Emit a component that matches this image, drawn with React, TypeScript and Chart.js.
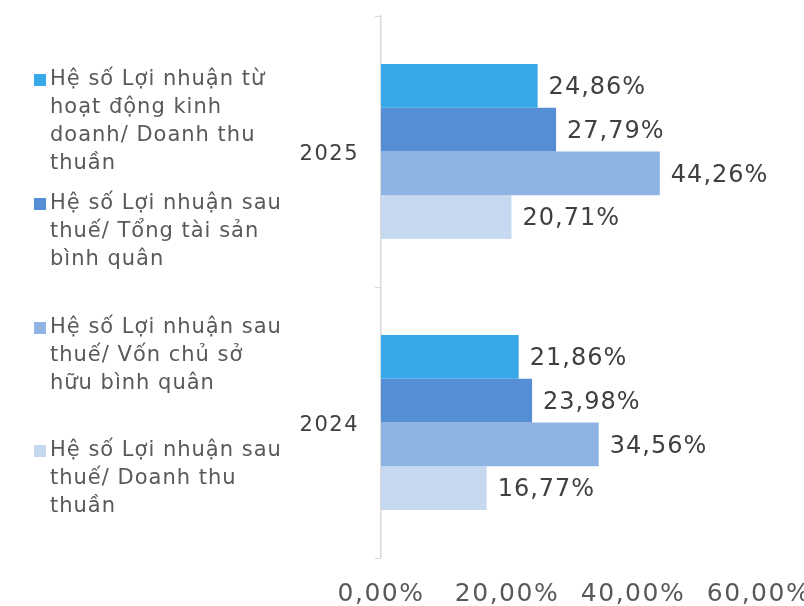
import React, { useEffect, useRef } from "react";
import { Chart, registerables } from "chart.js";

Chart.register(...registerables);

const categories = ["2025", "2024"];
const seriesNames = [
  "Hệ số Lợi nhuận từ hoạt động kinh doanh/ Doanh thu thuần",
  "Hệ số Lợi nhuận sau thuế/ Tổng tài sản bình quân",
  "Hệ số Lợi nhuận sau thuế/ Vốn chủ sở hữu bình quân",
  "Hệ số Lợi nhuận sau thuế/ Doanh thu thuần",
];
const legendLines = [
  ["Hệ số Lợi nhuận từ", "hoạt động kinh", "doanh/ Doanh thu", "thuần"],
  ["Hệ số Lợi nhuận sau", "thuế/ Tổng tài sản", "bình quân"],
  ["Hệ số Lợi nhuận sau", "thuế/ Vốn chủ sở", "hữu bình quân"],
  ["Hệ số Lợi nhuận sau", "thuế/ Doanh thu", "thuần"],
];
const seriesOperatingMargin = [24.86, 21.86];
const seriesROA = [27.79, 23.98];
const seriesROE = [44.26, 34.56];
const seriesNetMargin = [20.71, 16.77];
const xTicks = [0, 20, 40, 60];

const colors = ["#38A8E8", "#558ED5", "#8EB4E3", "#C6D9F1"];
const FONT = "'DejaVu Sans', sans-serif";

const fmt = (v: number) => v.toFixed(2).replace(".", ",") + "%";

export default function App() {
  const ref = useRef<HTMLCanvasElement | null>(null);
  useEffect(() => {
    document.body.style.margin = "0";
    const canvas = ref.current!;
    const spacingPlugin = {
      id: "spacing",
      beforeDraw(chart: any) {
        chart.ctx.letterSpacing = "1.5px";
      },
    };
    const legendPlugin = {
      id: "sideLegend",
      afterDraw(chart: any) {
        const ctx = chart.ctx;
        const starts = [80, 204, 328, 451];
        const lh = 28;
        ctx.save();
        ctx.letterSpacing = "1px";
        ctx.font = `21px ${FONT}`;
        ctx.textBaseline = "middle";
        ctx.textAlign = "left";
        legendLines.forEach((lines, i) => {
          const y0 = starts[i];
          ctx.fillStyle = colors[i];
          ctx.fillRect(34, y0 - 6, 12, 12);
          ctx.fillStyle = "#595959";
          lines.forEach((t, j) => ctx.fillText(t, 50, y0 + j * lh));
        });
        ctx.restore();
      },
    };
    const labelPlugin = {
      id: "barLabels",
      afterDatasetsDraw(chart: any) {
        const ctx = chart.ctx;
        ctx.save();
        ctx.letterSpacing = "1px";
        ctx.font = `24px ${FONT}`;
        ctx.fillStyle = "#404040";
        ctx.textBaseline = "middle";
        ctx.textAlign = "left";
        chart.data.datasets.forEach((ds: any, i: number) => {
          const meta = chart.getDatasetMeta(i);
          meta.data.forEach((bar: any, j: number) => {
            ctx.fillText(fmt(ds.data[j]), bar.x + 11, bar.y + 2);
          });
        });
        ctx.restore();
      },
    };
    const chart = new Chart(canvas, {
      type: "bar",
      data: {
        labels: categories,
        datasets: [
          { label: seriesNames[0], data: seriesOperatingMargin, backgroundColor: colors[0] },
          { label: seriesNames[1], data: seriesROA, backgroundColor: colors[1] },
          { label: seriesNames[2], data: seriesROE, backgroundColor: colors[2] },
          { label: seriesNames[3], data: seriesNetMargin, backgroundColor: colors[3] },
        ],
      },
      options: {
        indexAxis: "y",
        responsive: false,
        animation: false,
        layout: { padding: { top: 16, right: 45, left: 0, bottom: 0 } },
        datasets: { bar: { categoryPercentage: 0.646, barPercentage: 1 } },
        plugins: { legend: { display: false }, tooltip: { enabled: false } },
        scales: {
          x: {
            min: 0,
            max: 60,
            afterBuildTicks(scale: any) {
              scale.ticks = xTicks.map((v) => ({ value: v }));
            },
            afterFit(scale: any) {
              scale.height = 48;
              scale.paddingLeft = 0;
              scale.paddingRight = 0;
            },
            grid: { display: false },
            border: { display: false },
            ticks: {
              font: { family: FONT, size: 25 },
              color: "#595959",
              padding: 13,
              maxRotation: 0,
              autoSkip: false,
              callback: (v: any) => fmt(Number(v)),
            },
          },
          y: {
            afterFit(scale: any) {
              scale.width = 381;
              scale.paddingTop = 0;
              scale.paddingBottom = 0;
            },
            grid: {
              display: true,
              drawOnChartArea: false,
              drawTicks: true,
              tickLength: 6,
              color: "#D9D9D9",
              offset: true,
            },
            border: { display: true, color: "#D9D9D9", width: 1.5 },
            ticks: {
              font: { family: FONT, size: 21 },
              color: "#404040",
              padding: 16,
              labelOffset: 3,
            },
          },
        },
      },
      plugins: [spacingPlugin, legendPlugin, labelPlugin],
    } as any);
    return () => chart.destroy();
  }, []);
  return (
    <div style={{ width: 804, height: 606 }}>
      <canvas ref={ref} width={804} height={606} />
    </div>
  );
}
